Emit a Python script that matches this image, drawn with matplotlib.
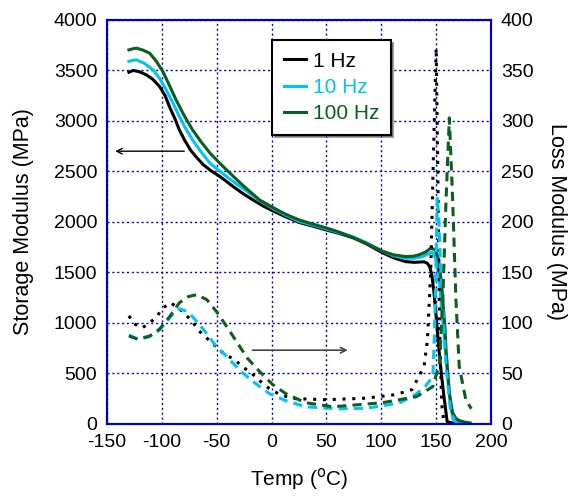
import matplotlib.pyplot as plt

plt.rcParams['font.family'] = ['Liberation Sans', 'DejaVu Sans']
plt.rcParams['axes.unicode_minus'] = False

# Storage modulus (left axis, MPa)
t_e1 = [-130, -126, -120, -114, -108, -102, -97, -93, -88, -84, -79, -74, -68, -62, -55, -47, -41, -35, -26, -17, -8, 0, 12, 25, 37, 50, 62, 75, 87, 100, 111, 122, 130, 139, 142, 144, 146, 148, 150, 152, 154, 157, 160, 163, 166]
e_1hz = [3482, 3500, 3485, 3455, 3410, 3340, 3250, 3140, 3020, 2910, 2805, 2713, 2635, 2564, 2505, 2449, 2400, 2350, 2280, 2218, 2160, 2115, 2055, 1995, 1960, 1920, 1885, 1840, 1780, 1700, 1645, 1607, 1600, 1605, 1590, 1557, 1480, 1300, 1062, 800, 567, 280, 23, 12, 10]

t_e10 = [-130, -126, -123, -116, -108, -102, -96, -90, -84, -78, -72, -64, -56, -48, -41, -30, -20, -10, 0, 12, 25, 37, 50, 62, 75, 87, 100, 111, 122, 130, 137, 143, 146, 148, 150, 152, 153, 155, 157, 159, 161, 163, 165, 167, 170, 177]
e_10hz = [3590, 3600, 3604, 3570, 3505, 3420, 3307, 3180, 3043, 2920, 2812, 2690, 2581, 2510, 2449, 2360, 2284, 2205, 2140, 2070, 2005, 1970, 1930, 1892, 1850, 1790, 1715, 1665, 1640, 1640, 1655, 1685, 1700, 1680, 1620, 1500, 1400, 1150, 900, 650, 400, 200, 59, 30, 20, 10]

t_e100 = [-130, -126, -123, -117, -111, -105, -99, -93, -87, -80, -72, -64, -56, -48, -41, -26, -11, 0, 12, 25, 37, 50, 60, 71, 86, 101, 111, 122, 129, 134, 140, 145, 148, 150, 152, 153, 155, 156, 158, 159, 161, 162, 164, 165, 168, 171, 176, 181]
e_100hz = [3703, 3715, 3720, 3700, 3670, 3590, 3488, 3350, 3208, 3060, 2911, 2790, 2680, 2590, 2515, 2360, 2218, 2150, 2080, 2020, 1980, 1940, 1905, 1860, 1790, 1710, 1675, 1657, 1660, 1673, 1700, 1739, 1730, 1706, 1630, 1557, 1380, 1228, 950, 733, 450, 307, 170, 109, 55, 33, 18, 10]

# Loss modulus (right axis, MPa)
t_l1 = [-130, -125, -118, -111, -104, -100, -92, -84, -78, -72, -66, -58, -50, -43, -34, -27, -18, -10, -2, 6, 14, 22, 50, 86, 113, 128, 139, 142, 145, 148, 150, 151.5, 153, 155, 157]
l_1hz = [107, 99, 95, 100, 107, 114, 120, 114, 108, 101, 92, 84, 76, 69, 64, 57, 50, 42, 35, 30, 27, 25, 24, 25.5, 29, 34, 57, 83, 150, 288, 372, 250, 100, 20, 2]

t_l10 = [-130, -122, -112, -102, -93, -84, -76, -67, -58, -50, -41, -29, -17, -2, 13, 31, 60, 86, 116, 131, 140, 147, 148.5, 150, 151, 152.5, 154, 159, 163, 167]
l_10hz = [88, 84, 86, 93, 105, 114, 111, 100, 88, 76, 67, 53, 42, 30, 23, 17, 15, 15.5, 20.5, 29, 37, 47, 90, 170, 225, 200, 156, 57, 14, 2]

t_l100 = [-130, -122, -111, -102, -93, -84, -76, -68, -59, -50, -40, -31, -22, -11, 1, 13, 31, 56, 101, 132, 147, 153, 156, 159, 162, 165, 168, 171, 177, 182]
l_100hz = [87, 84, 87, 94, 106, 120, 126, 128, 123, 111, 95, 80, 65, 52, 39, 30, 21, 17, 21, 27, 37, 60, 123, 222, 303, 222, 123, 57, 24, 15]

labels = ['1 Hz', '10 Hz', '100 Hz']
colors = ['black', '#00C4F5', '#0B5E1F']

blue = '#0000CC'

fig = plt.figure(figsize=(5.75, 4.97), dpi=100)
ax = fig.add_axes([0.186, 0.147, 0.668, 0.813])
ax2 = ax.twinx()

# storage curves
h1, = ax.plot(t_e1, e_1hz, color=colors[0], lw=2.2, label=labels[0])
h2, = ax.plot(t_e10, e_10hz, color=colors[1], lw=2.2, label=labels[1])
h3, = ax.plot(t_e100, e_100hz, color=colors[2], lw=2.2, label=labels[2])

# loss curves
ax2.plot(t_l1, l_1hz, color=colors[0], lw=2.2, linestyle=(0, (1, 2.2)))
ax2.plot(t_l10, l_10hz, color=colors[1], lw=2.2, linestyle=(0, (3, 2)))
ax2.plot(t_l100, l_100hz, color=colors[2], lw=2.2, linestyle=(0, (3, 2)))

ax.set_xlim(-150, 200)
ax.set_ylim(0, 4000)
ax2.set_ylim(0, 400)
ax.set_xticks(range(-150, 201, 50))
ax.set_yticks(range(0, 4001, 500))
ax2.set_yticks(range(0, 401, 50))

ax.grid(True, color=blue, linestyle=(0, (1.5, 2)), lw=1)
for a in (ax, ax2):
    for s in a.spines.values():
        s.set_color(blue)
        s.set_linewidth(1.5)
    a.tick_params(length=0, pad=7, labelsize=14)

ax.set_xlabel('Temp ($^{\\mathrm{o}}$C)', fontsize=15, labelpad=11)
ax.set_ylabel('Storage Modulus (MPa)', fontsize=15.5, labelpad=14)
ax2.set_ylabel('Loss Modulus (MPa)', fontsize=15.5, rotation=270, labelpad=24)

# arrows pointing to each axis
ax.annotate('', xy=(-145, 2700), xytext=(-77, 2700),
            arrowprops=dict(arrowstyle='->', color='black', lw=1))
ax2.annotate('', xy=(72, 73), xytext=(-20, 73),
            arrowprops=dict(arrowstyle='->', color='#444444', lw=1.2))

leg = ax2.legend([h1, h2, h3], labels, loc='upper left', bbox_to_anchor=(0.43, 0.95),
                 borderaxespad=0, fontsize=15, frameon=True, fancybox=False, shadow=True,
                 edgecolor='black', framealpha=1, handlelength=1.1,
                 handletextpad=0.3, borderpad=0.55, labelspacing=0.35)
leg.get_frame().set_linewidth(1.5)
for txt, c in zip(leg.get_texts(), colors):
    txt.set_color(c)

fig.savefig('out.png', dpi=100)
